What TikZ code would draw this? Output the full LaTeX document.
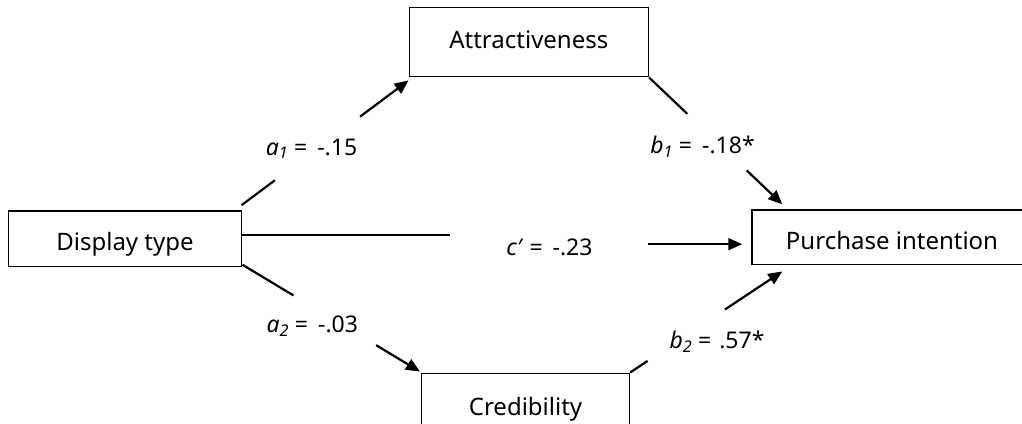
\documentclass[tikz,border=0pt]{standalone}
\usepackage{fontspec}
\setmainfont{Noto Sans}
\usetikzlibrary{arrows.meta,calc}
\newcommand{\eqgap}{=\hspace{10pt}}
\begin{document}
\begin{tikzpicture}[x=1pt,y=-1pt,
  box/.style={draw, line width=1.5pt, inner sep=0pt, font=\fontsize{24}{28}\selectfont, text depth=0pt},
  lbl/.style={font=\fontsize{23}{27}\selectfont, anchor=base, inner sep=0pt},
  conn/.style={line width=2.2pt},
  arr/.style={conn, -{Triangle[length=14pt,width=12pt]}}]
\useasboundingbox (0,0) rectangle (1022,423);
\clip (0,0) rectangle (1022,423);
% boxes
\node[box, minimum width=233.4pt, minimum height=55.7pt, text height=23.6pt] (disp) at (125,238.85) {Display type};
\node[box, minimum width=239pt, minimum height=69.4pt, text height=12.6pt] (attr) at (528.8,42) {Attractiveness};
\node[box, minimum width=280pt, minimum height=54.3pt, text height=23.7pt] (pi) at (892,237.15) {Purchase intention};
\node[box, minimum width=207.6pt, minimum height=57.7pt, text height=25.7pt] (cred) at (525.5,402.15) {Credibility};
% a1
\coordinate (a1s) at ($(disp.north east)+(-1,-5)$);
\coordinate (a1e) at ($(attr.south west)+(0,3)$);
\draw[conn] (a1s) -- ($(a1s)!0.20!(a1e)$);
\draw[arr] ($(a1s)!0.71!(a1e)$) -- (a1e);
% a2
\coordinate (a2s) at ($(disp.south east)+(0,-2.7)$);
\coordinate (a2e) at ($(cred.north west)+(-1,-1)$);
\draw[conn] (a2s) -- ($(a2s)!0.288!(a2e)$);
\draw[arr] ($(a2s)!0.753!(a2e)$) -- (a2e);
% c'
\coordinate (cs) at ($(disp.east)+(0,-4)$);
\coordinate (ce) at ($(pi.west)+(-9,7)$);
\draw[conn] (cs) -- ++(208,0);
\draw[arr] ($(ce)+(-94,0)$) -- (ce);
% b1
\coordinate (b1s) at (attr.south east);
\coordinate (b1e) at ($(pi.north west)+(31,-5)$);
\draw[conn] (b1s) -- ($(b1s)!0.287!(b1e)$);
\draw[arr] ($(b1s)!0.733!(b1e)$) -- (b1e);
% b2
\coordinate (b2s) at (cred.north east);
\coordinate (b2e) at ($(pi.south west)+(31,6.4)$);
\draw[conn] (b2s) -- ($(b2s)!0.115!(b2e)$);
\draw[arr] ($(b2s)!0.624!(b2e)$) -- (b2e);
% labels
\node[lbl] (la1) at (311.5,155) {\textit{a\textsubscript{1}} \eqgap-.15};
\node[lbl] (la2) at (312.3,332.3) {\textit{a\textsubscript{2}} \eqgap-.03};
\node[lbl] (lc) at (549.5,255) {\textit{c′} \eqgap-.23};
\node[lbl] (lb1) at (702.5,153.3) {\textit{b\textsubscript{1}} \eqgap-.18*};
\node[lbl] (lb2) at (717,348.3) {\textit{b\textsubscript{2}} =\hspace{8pt}.57*};
\end{tikzpicture}
\end{document}
